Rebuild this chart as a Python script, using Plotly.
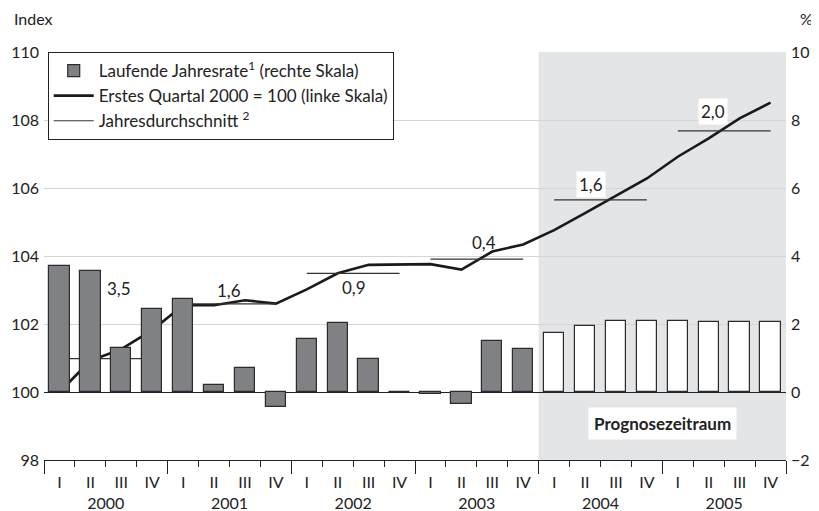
import plotly.graph_objects as go

# Quartale 2000 I bis 2005 IV
jahre = ["2000", "2001", "2002", "2003", "2004", "2005"]
quartale = ["I", "II", "III", "IV"]

# Laufende Jahresrate in % (rechte Skala)
jahresrate = [3.7, 3.55, 1.3, 2.45, 2.75, 0.2, 0.72, -0.45, 1.57, 2.04, 0.97, 0.0,
              -0.05, -0.35, 1.5, 1.27, 1.75, 1.93, 2.1, 2.1, 2.1, 2.05, 2.05, 2.05]
prognose_ab = 16  # Index des ersten Prognosequartals (2004 I)

# Index, erstes Quartal 2000 = 100 (linke Skala)
index = [100.0, 100.92, 101.26, 101.82, 102.55, 102.55, 102.7, 102.6,
         103.02, 103.49, 103.74, 103.74, 103.76, 103.6, 104.13, 104.34,
         104.76, 105.26, 105.77, 106.28, 106.92, 107.46, 108.05, 108.51]

# Jahresdurchschnitt (Indexniveau) und Wachstumsrate als Beschriftung
jahresdurchschnitt = [100.98, 102.59, 103.49, 103.91, 105.65, 107.68]
jahresdurchschnitt_text = ["3,5", "1,6", "0,9", "0,4", "1,6", "2,0"]

x = list(range(len(index)))
ticktext = [q for _ in jahre for q in quartale]

bar_colors = ["#808184" if i < prognose_ab else "white" for i in x]

avg_x, avg_y = [], []
for j, v in enumerate(jahresdurchschnitt):
    avg_x += [4 * j, 4 * j + 3, None]
    avg_y += [v, v, None]

font = "Lato, Open Sans, sans-serif"

fig = go.Figure()
fig.add_trace(go.Bar(
    x=x, y=jahresrate, yaxis="y2", width=0.66,
    marker=dict(color=bar_colors, line=dict(color="#2b2b2b", width=1.2)),
    name="Laufende Jahresrate<sup>1</sup> (rechte Skala)",
))
fig.add_trace(go.Scatter(
    x=x, y=index, mode="lines", line=dict(color="#1a1a1a", width=2.6),
    name="Erstes Quartal 2000 = 100 (linke Skala)",
))
fig.add_trace(go.Scatter(
    x=avg_x, y=avg_y, mode="lines", line=dict(color="#333333", width=1.2),
    name="Jahresdurchschnitt <sup>2</sup>",
))
# leere Spuren, damit die zusätzlichen x-Achsen (Striche, Jahre) gezeichnet werden
for ax in ["x2", "x3", "x4"]:
    fig.add_trace(go.Scatter(x=[None], y=[None], xaxis=ax, yaxis="y",
                             showlegend=False, hoverinfo="skip"))

# Beschriftung der Jahresdurchschnitte (x-Versatz zur Jahresmitte, y-Wert links)
label_pos = [(0.43, 103.03, False), (-0.01, 103.0, False), (0.03, 103.06, False),
             (0.24, 104.41, False), (-0.3, 106.09, True), (-0.35, 108.24, True)]
for j, (txt, (dx, yy, box)) in enumerate(zip(jahresdurchschnitt_text, label_pos)):
    fig.add_annotation(x=4 * j + 1.5 + dx, y=yy, xref="x", yref="y", text=txt,
                       showarrow=False, font=dict(size=17, color="#222"),
                       bgcolor="white" if box else None, borderpad=2)

# Prognosezeitraum
fig.add_shape(type="rect", xref="x", yref="paper", x0=prognose_ab - 0.5, x1=23.5,
              y0=0, y1=1, fillcolor="#e4e5e7", line_width=0, layer="below")
fig.add_annotation(x=19.5, y=99.06, xref="x", yref="y", text="<b>Prognosezeitraum</b>",
                   showarrow=False, bgcolor="white", borderpad=5,
                   font=dict(size=17, color="#222"))

fig.add_annotation(x=-0.043, y=1.083, xref="paper", yref="paper", text="Index",
                   showarrow=False, xanchor="left", yanchor="middle",
                   font=dict(size=16, color="#222"))
fig.add_annotation(x=1.027, y=1.083, xref="paper", yref="paper", text="%",
                   showarrow=False, xanchor="center", yanchor="middle",
                   font=dict(size=16, color="#222"))

rng = [-0.5, 23.5]
# Seite hat 8px Rand im Browser -> Figur um 8px kleiner
fig.update_layout(
    width=811, height=503,
    margin=dict(l=36, r=33, t=44, b=51, autoexpand=False),
    paper_bgcolor="white", plot_bgcolor="rgba(0,0,0,0)",
    font=dict(family=font, size=16, color="#222"),
    showlegend=True,
    legend=dict(x=0.005, y=1.0, xanchor="left", yanchor="top",
                bgcolor="white", bordercolor="#222", borderwidth=1,
                font=dict(size=17), tracegroupgap=0, itemwidth=40),
    bargap=0,
    xaxis=dict(range=rng, tickvals=x, ticktext=ticktext, ticks="",
               showline=True, linecolor="#222", linewidth=1.2, showgrid=False,
               zeroline=False, ticklabelstandoff=8, automargin=False),
    xaxis2=dict(range=rng, overlaying="x", anchor="y",
                tickvals=[i - 0.5 for i in range(25)], ticks="outside",
                ticklen=6, tickcolor="#222", showticklabels=False,
                showgrid=False, zeroline=False, automargin=False),
    xaxis3=dict(range=rng, overlaying="x", anchor="y",
                tickvals=[4 * j - 0.5 for j in range(len(jahre) + 1)], ticks="outside",
                ticklen=13, tickcolor="#222", showticklabels=False,
                showgrid=False, zeroline=False, automargin=False),
    xaxis4=dict(range=rng, overlaying="x", anchor="y",
                tickvals=[4 * j + 1.5 for j in range(len(jahre))], ticktext=jahre,
                ticks="", showgrid=False, zeroline=False, ticklabelstandoff=32,
                automargin=False),
    yaxis=dict(range=[98, 110], dtick=2, gridcolor="#d5d5d5", gridwidth=1,
               ticks="", zeroline=False, showline=False, ticklabelstandoff=4,
               automargin=False),
    yaxis2=dict(range=[-2, 10], dtick=2, overlaying="y", side="right",
                showgrid=False, zeroline=True, zerolinecolor="#222", zerolinewidth=1.2,
                ticks="", ticklabelstandoff=4, tickformat="d", automargin=False),
)

fig.write_html("out.html")
